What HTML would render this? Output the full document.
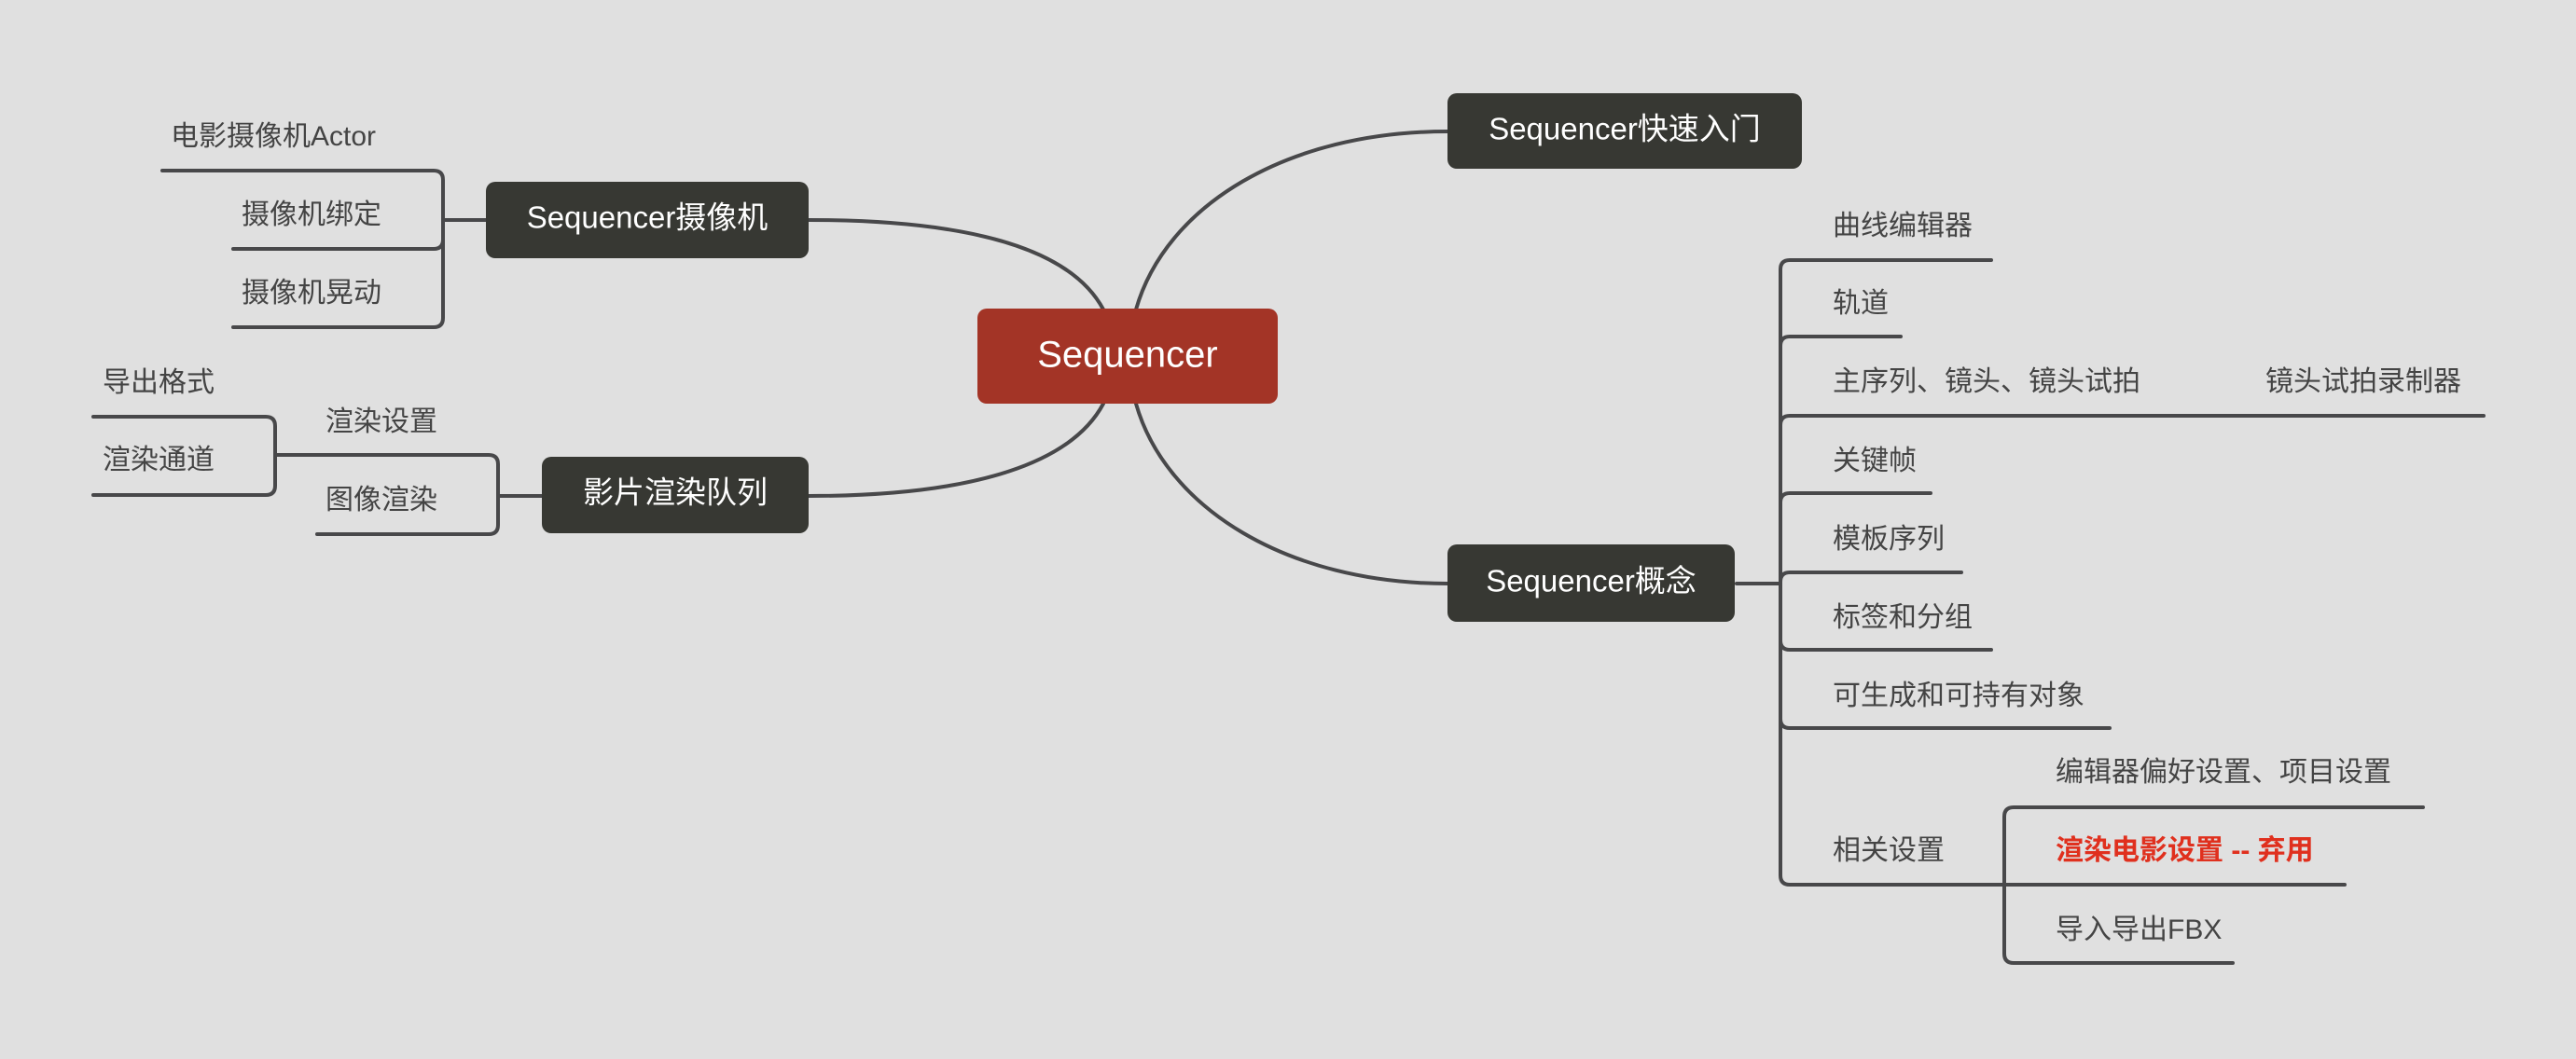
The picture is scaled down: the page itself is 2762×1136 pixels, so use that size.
<!DOCTYPE html>
<html><head><meta charset="utf-8"><style>
html,body{margin:0;padding:0;background:#e0e0e0;}
svg{display:block}
text{font-family:"Liberation Sans","Noto Sans CJK SC",sans-serif;}
</style></head><body>
<svg width="2762" height="1136" viewBox="0 0 2762 1136" xmlns="http://www.w3.org/2000/svg">
<rect width="2762" height="1136" fill="#e0e0e0"/>
<g fill="none" stroke="#48484a" stroke-width="4" stroke-linecap="round">
<!-- main curves -->
<path d="M1218,332 C1250,220 1380,141 1552,141"/>
<path d="M1218,433 C1250,545 1380,626 1552,626"/>
<path d="M1183,332 C1150,270 1050,236 867,236"/>
<path d="M1183,433 C1150,495 1050,532 867,532"/>
<!-- camera children -->
<path d="M521,236 L475,236"/>
<path d="M475,236 L475,193 Q475,183 465,183 L174,183"/>
<path d="M475,236 L475,257 Q475,267 465,267 L250,267"/>
<path d="M475,236 L475,341 Q475,351 465,351 L250,351"/>
<!-- render queue children -->
<path d="M581,532 L534,532"/>
<path d="M534,532 L534,498 Q534,488 524,488 L295,488"/>
<path d="M534,532 L534,563 Q534,573 524,573 L340,573"/>
<path d="M295,488 L295,457 Q295,447 285,447 L100,447"/>
<path d="M295,488 L295,521 Q295,531 285,531 L100,531"/>
<!-- concept children -->
<path d="M1862,626 L1909,626"/>
<path d="M1909,626 L1909,289 Q1909,279 1919,279 L2135,279"/>
<path d="M1909,626 L1909,371 Q1909,361 1919,361 L2038,361"/>
<path d="M1909,626 L1909,456 Q1909,446 1919,446 L2663,446"/>
<path d="M1909,626 L1909,539 Q1909,529 1919,529 L2070,529"/>
<path d="M1909,626 L1909,624 Q1909,614 1919,614 L2103,614"/>
<path d="M1909,626 L1909,687 Q1909,697 1919,697 L2135,697"/>
<path d="M1909,626 L1909,771 Q1909,781 1919,781 L2262,781"/>
<path d="M1909,626 L1909,939 Q1909,949 1919,949 L2149,949"/>
<path d="M2149,949 L2149,876 Q2149,866 2159,866 L2598,866"/>
<path d="M2149,949 L2514,949"/>
<path d="M2149,949 L2149,1023 Q2149,1033 2159,1033 L2394,1033"/>
</g>
<!-- nodes -->
<rect x="1048" y="331" width="322" height="102" rx="10" fill="#a33426"/>
<text x="1209" y="383" fill="#fff" font-size="40" text-anchor="middle" dominant-baseline="middle">Sequencer</text>
<rect x="1552" y="100" width="380" height="81" rx="10" fill="#373833"/>
<text x="1742" y="141" fill="#fff" font-size="33" text-anchor="middle" dominant-baseline="middle">Sequencer快速入门</text>
<rect x="1552" y="584" width="308" height="83" rx="10" fill="#373833"/>
<text x="1706" y="626" fill="#fff" font-size="33" text-anchor="middle" dominant-baseline="middle">Sequencer概念</text>
<rect x="521" y="195" width="346" height="82" rx="10" fill="#373833"/>
<text x="694" y="236" fill="#fff" font-size="33" text-anchor="middle" dominant-baseline="middle">Sequencer摄像机</text>
<rect x="581" y="490" width="286" height="82" rx="10" fill="#373833"/>
<text x="724" y="531" fill="#fff" font-size="33" text-anchor="middle" dominant-baseline="middle">影片渲染队列</text>
<!-- child texts -->
<g fill="#444" font-size="30" dominant-baseline="middle">
<text x="183" y="148">电影摄像机Actor</text>
<text x="259" y="232">摄像机绑定</text>
<text x="259" y="316">摄像机晃动</text>
<text x="110" y="412">导出格式</text>
<text x="110" y="495">渲染通道</text>
<text x="349" y="454">渲染设置</text>
<text x="349" y="538">图像渲染</text>
<text x="1965" y="244">曲线编辑器</text>
<text x="1965" y="327">轨道</text>
<text x="1965" y="411">主序列、镜头、镜头试拍</text>
<text x="2429" y="411">镜头试拍录制器</text>
<text x="1965" y="496">关键帧</text>
<text x="1965" y="580">模板序列</text>
<text x="1965" y="664">标签和分组</text>
<text x="1965" y="748">可生成和可持有对象</text>
<text x="1965" y="914">相关设置</text>
<text x="2204" y="830">编辑器偏好设置、项目设置</text>
<text x="2204" y="999">导入导出FBX</text>
</g>
<text x="2204" y="914" fill="#e0301e" font-size="30" font-weight="bold" dominant-baseline="middle">渲染电影设置 -- 弃用</text>
</svg>
</body></html>
